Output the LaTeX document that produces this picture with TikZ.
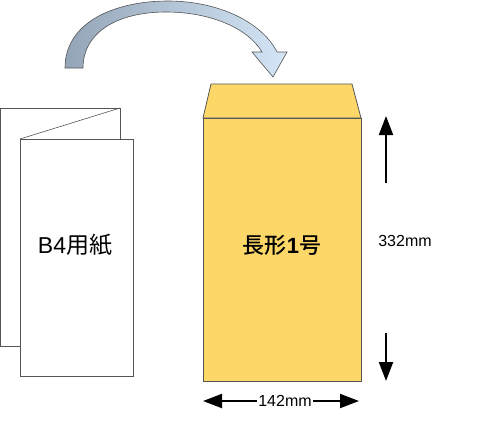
\documentclass[tikz,border=0pt]{standalone}
\usepackage{fontspec}
\setmainfont{Liberation Sans}
\newfontfamily\cjk{Noto Sans CJK JP}
\newfontfamily\cjkm{Noto Sans CJK JP Medium}
\usetikzlibrary{arrows.meta}
\definecolor{env}{HTML}{FDD868}
\definecolor{edge}{HTML}{555555}
\definecolor{arrL}{HTML}{93A5B7}
\definecolor{arrR}{HTML}{D4E5F7}
\begin{document}
\begin{tikzpicture}[x=1pt,y=-1pt,
  paper/.style={draw=edge, fill=white, line width=0.8pt},
  envbox/.style={draw=edge, fill=env, line width=0.8pt},
  dim/.style={line width=2pt, -{Triangle[length=19pt,width=14pt]}},
  dimtxt/.style={font=\fontsize{16}{16}\selectfont, inner sep=1.5pt}]
\useasboundingbox (0,0) rectangle (495,432);
% curved arrow
\path[draw=edge, line width=0.6pt, left color=arrL, right color=arrR]
  (65,68) .. controls (65,22) and (115,1) .. (168,1)
  .. controls (218,1) and (262,22) .. (277,52)
  -- (287,52) -- (273,77) -- (252,52) -- (262,52)
  .. controls (248,28) and (210,12) .. (166,12)
  .. controls (118,12) and (83,32) .. (83,68) -- cycle;
% B4 paper
\draw[paper] (0.5,108) rectangle (120,346);
\draw[paper] (20,139) rectangle (133,376);
\draw[draw=edge, line width=0.6pt] (20,139) -- (120,108);
\node[font=\fontsize{23}{23}\selectfont, inner sep=0pt] (b4) at (75,245) {B4{\cjk 用紙}};
% envelope
\draw[envbox] (203,118) -- (211,84) -- (352,84) -- (361,118) -- cycle;
\draw[envbox] (203,118) rectangle (361,381);
\node[font=\fontsize{22}{22}\selectfont, inner sep=0pt] (envtxt) at (282,245) {{\cjkm 長形}{\bfseries 1}{\cjkm 号}};
% width
\node[dimtxt] (w) at (285,401) {142mm};
\coordinate (wl) at (203,401);
\coordinate (wr) at (359,401);
\draw[dim] (w.west) -- (wl);
\draw[dim] (w.east) -- (wr);
% height
\node[dimtxt] (h) at (405,241) {332mm};
\coordinate (ut) at (386,183);
\coordinate (uh) at (386,116);
\coordinate (dt) at (386,333);
\coordinate (dh) at (386,381);
\draw[dim] (ut) -- (uh);
\draw[dim] (dt) -- (dh);
\end{tikzpicture}
\end{document}
